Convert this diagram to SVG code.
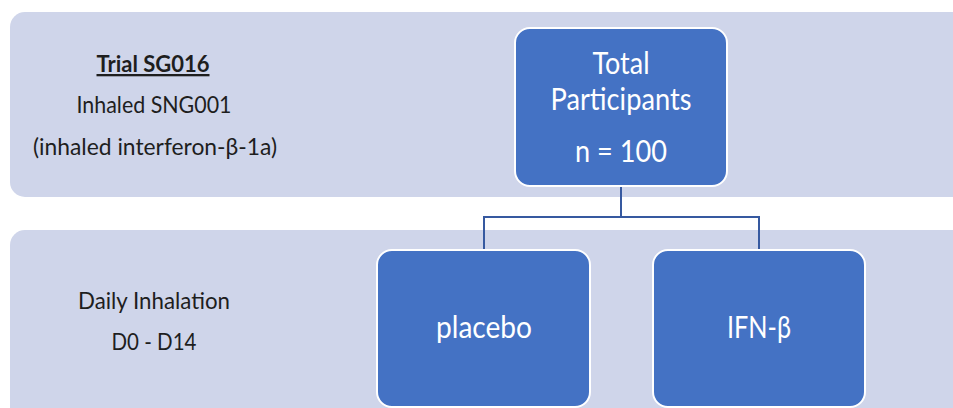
<svg xmlns="http://www.w3.org/2000/svg" width="953" height="408" viewBox="0 0 953 408">
<style>
.band{fill:#cfd5ea}
.box{fill:#4472c4;stroke:#ffffff;stroke-width:2}
.lt{font-family:Lato,"Open Sans",sans-serif;font-size:23px;fill:#1e1e1e;text-anchor:middle}
.bt{font-family:Lato,"Open Sans",sans-serif;font-size:30px;fill:#ffffff;text-anchor:middle}
.conn{fill:none;stroke:#3659a0;stroke-width:2}
</style>
<rect width="953" height="408" fill="#ffffff"/>
<g id="band-top">
<rect class="band" x="10" y="12" width="960" height="185" rx="15"/>
<text class="lt" x="153" y="72" font-weight="bold" text-decoration="underline" textLength="113" lengthAdjust="spacingAndGlyphs">Trial SG016</text>
<text class="lt" x="154" y="113" textLength="155" lengthAdjust="spacingAndGlyphs">Inhaled SNG001</text>
<text class="lt" x="155" y="155" textLength="244" lengthAdjust="spacingAndGlyphs">(inhaled interferon-β-1a)</text>
</g>
<g id="band-bottom">
<rect class="band" x="10" y="230" width="960" height="200" rx="15"/>
<text class="lt" x="154" y="309" textLength="152" lengthAdjust="spacingAndGlyphs">Daily Inhalation</text>
<text class="lt" x="154" y="350" textLength="85" lengthAdjust="spacingAndGlyphs">D0 - D14</text>
</g>
<g id="connectors">
<path class="conn" d="M621 186 V217 M484 217 H759 M484 216 V250 M759 216 V250"/>
</g>
<g id="node-total">
<rect class="box" x="515" y="28" width="212" height="158" rx="15"/>
<text class="bt" x="621" y="74" textLength="57" lengthAdjust="spacingAndGlyphs">Total</text>
<text class="bt" x="621" y="110" textLength="141" lengthAdjust="spacingAndGlyphs">Participants</text>
<text class="bt" x="621" y="162" textLength="92" lengthAdjust="spacingAndGlyphs">n = 100</text>
</g>
<g id="node-placebo">
<rect class="box" x="377" y="250" width="213" height="157" rx="15"/>
<text class="bt" x="484" y="338" textLength="96" lengthAdjust="spacingAndGlyphs">placebo</text>
</g>
<g id="node-ifn">
<rect class="box" x="653" y="250" width="212" height="157" rx="15"/>
<text class="bt" x="759" y="338" textLength="64" lengthAdjust="spacingAndGlyphs">IFN-β</text>
</g>
</svg>
